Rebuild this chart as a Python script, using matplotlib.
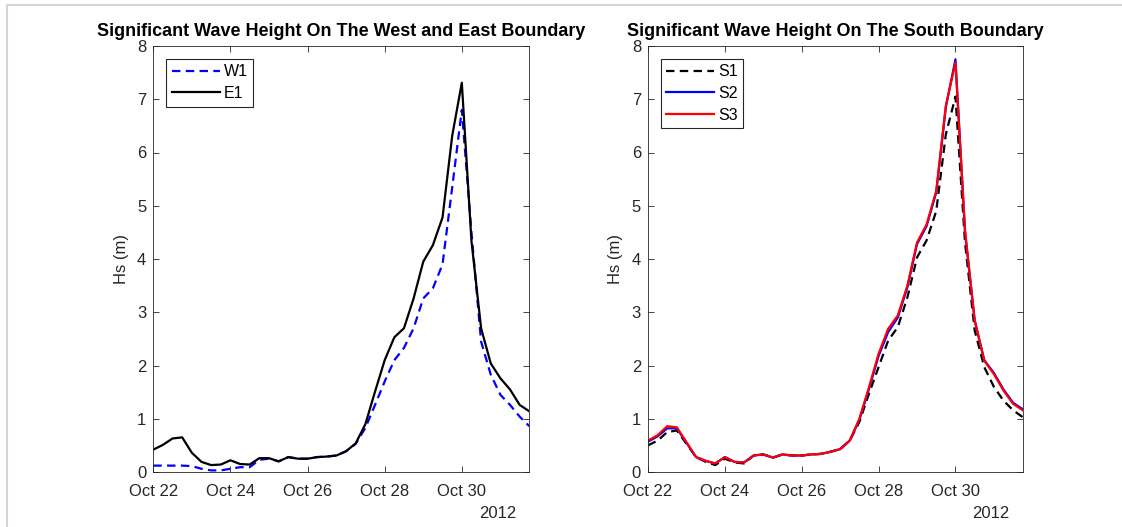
import numpy as np
import matplotlib
matplotlib.use("Agg")
import matplotlib.pyplot as plt
import matplotlib.dates as mdates
from matplotlib.lines import Line2D
import datetime as dt

plt.rcParams['font.family'] = ['Liberation Sans', 'DejaVu Sans']

# 6-hourly time stamps, Oct 22 00:00 to Oct 31 18:00, 2012
start = dt.datetime(2012, 10, 22)
times = [start + dt.timedelta(hours=6 * i) for i in range(40)]

W1 = [0.12, 0.12, 0.12, 0.12, 0.11, 0.06, 0.03, 0.03, 0.06, 0.09,
      0.09, 0.23, 0.25, 0.20, 0.28, 0.25, 0.25, 0.28, 0.29, 0.31,
      0.39, 0.53, 0.83, 1.26, 1.70, 2.10, 2.33, 2.70, 3.26, 3.45,
      3.90, 5.34, 6.80, 4.50, 2.45, 1.83, 1.45, 1.26, 1.04, 0.86]
E1 = [0.42, 0.51, 0.63, 0.65, 0.36, 0.19, 0.13, 0.14, 0.22, 0.15,
      0.14, 0.26, 0.26, 0.20, 0.28, 0.25, 0.25, 0.28, 0.29, 0.31,
      0.39, 0.54, 0.90, 1.51, 2.10, 2.53, 2.70, 3.26, 3.95, 4.26,
      4.78, 6.31, 7.31, 4.34, 2.70, 2.04, 1.76, 1.55, 1.26, 1.14]

S1 = [0.50, 0.59, 0.75, 0.78, 0.53, 0.28, 0.19, 0.13, 0.25, 0.18,
      0.16, 0.31, 0.33, 0.27, 0.33, 0.31, 0.31, 0.33, 0.34, 0.38,
      0.43, 0.59, 0.94, 1.47, 1.97, 2.47, 2.72, 3.28, 4.03, 4.35,
      4.90, 6.34, 7.05, 4.30, 2.66, 1.97, 1.60, 1.34, 1.16, 1.03]
S2 = [0.57, 0.67, 0.82, 0.82, 0.55, 0.28, 0.21, 0.16, 0.28, 0.19,
      0.18, 0.31, 0.33, 0.27, 0.33, 0.31, 0.31, 0.33, 0.34, 0.38,
      0.43, 0.59, 0.98, 1.56, 2.18, 2.63, 2.90, 3.47, 4.28, 4.62,
      5.25, 6.85, 7.75, 4.50, 2.85, 2.10, 1.86, 1.55, 1.30, 1.18]
S3 = [0.59, 0.69, 0.86, 0.84, 0.56, 0.28, 0.21, 0.16, 0.28, 0.19,
      0.18, 0.31, 0.33, 0.27, 0.33, 0.31, 0.31, 0.33, 0.34, 0.38,
      0.43, 0.59, 1.00, 1.59, 2.22, 2.69, 2.94, 3.50, 4.31, 4.65,
      5.28, 6.88, 7.69, 4.53, 2.85, 2.09, 1.84, 1.53, 1.28, 1.16]

xtick_days = [22, 24, 26, 28, 30]
yticks = [0, 1, 2, 3, 4, 5, 6, 7, 8]

W = 1122; H = 527
fig = plt.figure(figsize=(W / 100, H / 100), dpi=100)

# light frame of the figure window
fig.add_artist(Line2D([7 / W, 1121 / W], [1 - 5 / H, 1 - 5 / H], color='#d4d4d4', lw=1.5,
                      transform=fig.transFigure))
fig.add_artist(Line2D([7 / W, 7 / W], [0, 1 - 5 / H], color='#d4d4d4', lw=1.5,
                      transform=fig.transFigure))

axc = '#262626'
bottom = 1 - 472 / H
height = (472 - 46) / H
ax1 = fig.add_axes([153.3 / W, bottom, (529.3 - 153.3) / W, height])
ax2 = fig.add_axes([648 / W, bottom, (1022.7 - 648) / W, height])

dash = (0, (3.8, 2.4))
ax1.plot(times, W1, color='#0000ff', lw=1.6, linestyle=dash, label='W1')
ax1.plot(times, E1, color='black', lw=1.6, label='E1')

ax2.plot(times, S1, color='black', lw=1.6, linestyle=dash, label='S1')
ax2.plot(times, S2, color='#0000ff', lw=1.6, label='S2')
ax2.plot(times, S3, color='#ff0000', lw=1.6, label='S3')

titles = ['Significant Wave Height On The West and East Boundary',
          'Significant Wave Height On The South Boundary']
for ax, t in zip([ax1, ax2], titles):
    ax.set_xlim(times[0], times[-1])
    ax.set_ylim(0, 8)
    ax.set_yticks(yticks)
    ax.set_xticks([dt.datetime(2012, 10, d) for d in xtick_days])
    ax.xaxis.set_major_formatter(mdates.DateFormatter('Oct %d'))
    ax.tick_params(direction='in', length=4, width=0.6, top=True, right=True,
                   labelsize=12, colors=axc, labelcolor=axc)
    ax.tick_params(axis='x', pad=9)
    ax.tick_params(axis='y', pad=5)
    for s in ax.spines.values():
        s.set_color(axc)
        s.set_linewidth(0.6)
    ax.set_title(t, fontsize=13, fontweight='bold', pad=7)
    ax.set_ylabel('Hs (m)', fontsize=12, color=axc, labelpad=6)
    ax.text(0.965, -0.08, '2012', transform=ax.transAxes, ha='right', va='top',
            fontsize=12, color=axc)
    leg = ax.legend(loc='upper left', fontsize=11.5, frameon=True, fancybox=False,
                    edgecolor=axc, framealpha=1, handlelength=3.0, handletextpad=0.25,
                    borderpad=0.35, labelspacing=0.42, borderaxespad=0.8)
    leg.get_frame().set_linewidth(0.8)

fig.savefig('out.png', dpi=100)
